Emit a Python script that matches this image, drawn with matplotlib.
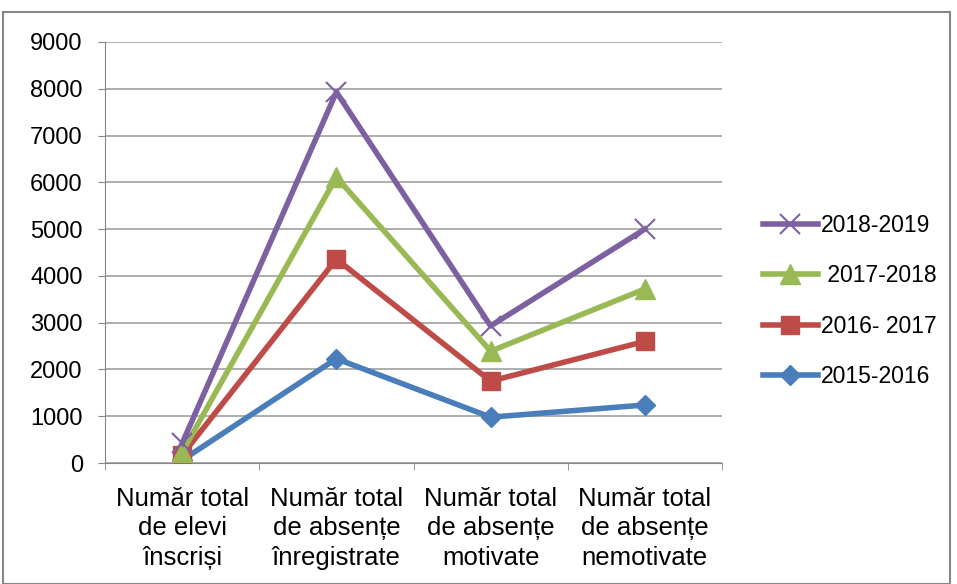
import matplotlib
matplotlib.use("Agg")
import matplotlib.pyplot as plt
from matplotlib.patches import Rectangle

categories = ["Număr total\nde elevi\nînscriși",
              "Număr total\nde absențe\nînregistrate",
              "Număr total\nde absențe\nmotivate",
              "Număr total\nde absențe\nnemotivate"]
s2015 = [60, 2230, 980, 1240]
s2016 = [170, 4360, 1750, 2600]
s2017 = [230, 6110, 2390, 3720]
s2018 = [420, 7930, 2930, 5000]
yticks = [0, 1000, 2000, 3000, 4000, 5000, 6000, 7000, 8000, 9000]

plt.rcParams['font.family'] = ['Liberation Sans', 'DejaVu Sans']
fig = plt.figure(figsize=(9.57, 5.84), dpi=100)
ax = fig.add_axes([105/957, 1-463/584, (722-105)/957, (463-42)/584])

x = list(range(len(categories)))
lw = 4
ax.plot(x, s2015, color="#4A7EBB", lw=lw, marker="D", ms=10, label="2015-2016", zorder=3)
ax.plot(x, s2016, color="#BE4B48", lw=lw, marker="s", ms=13, label="2016- 2017", zorder=4)
ax.plot(x, s2017, color="#98B954", lw=lw, marker="^", ms=14, label=" 2017-2018", zorder=5)
ax.plot(x, s2018, color="#7D60A0", lw=lw, marker="x", ms=14, mew=1.5, label="2018-2019", zorder=6)

ax.set_xlim(-0.5, 3.5)
ax.set_ylim(0, 9000)
ax.set_yticks(yticks)
ax.set_yticklabels([str(v) for v in yticks], fontsize=17)
ax.set_xticks(x)
ax.set_xticklabels(categories, fontsize=18.5, linespacing=1.3)
ax.tick_params(axis='x', length=0, pad=17)
ax.set_xticks([-0.5, 0.5, 1.5, 2.5, 3.5], minor=True)
ax.tick_params(axis='x', which='minor', length=5, color="#868686")
ax.tick_params(axis='y', length=5, color="#868686", pad=11)
ax.yaxis.grid(True, color="#A0A0A0", lw=1.2)
ax.set_axisbelow(True)
for side in ['top', 'right']:
    ax.spines[side].set_visible(False)
ax.spines['left'].set_color("#868686")
ax.spines['bottom'].set_color("#868686")

handles, labels = ax.get_legend_handles_labels()
leg = fig.legend(handles[::-1], labels[::-1], loc='center left',
                 bbox_to_anchor=(742/957, 1-301/584), frameon=False,
                 fontsize=16.5, labelspacing=1.2, handlelength=2.4, handletextpad=0.15)

fig.patches.append(Rectangle((3/957, 0), 947/957, 1-12/584, transform=fig.transFigure,
                             fill=False, edgecolor="#868686", lw=1.5))
fig.savefig("out.png", dpi=100)
